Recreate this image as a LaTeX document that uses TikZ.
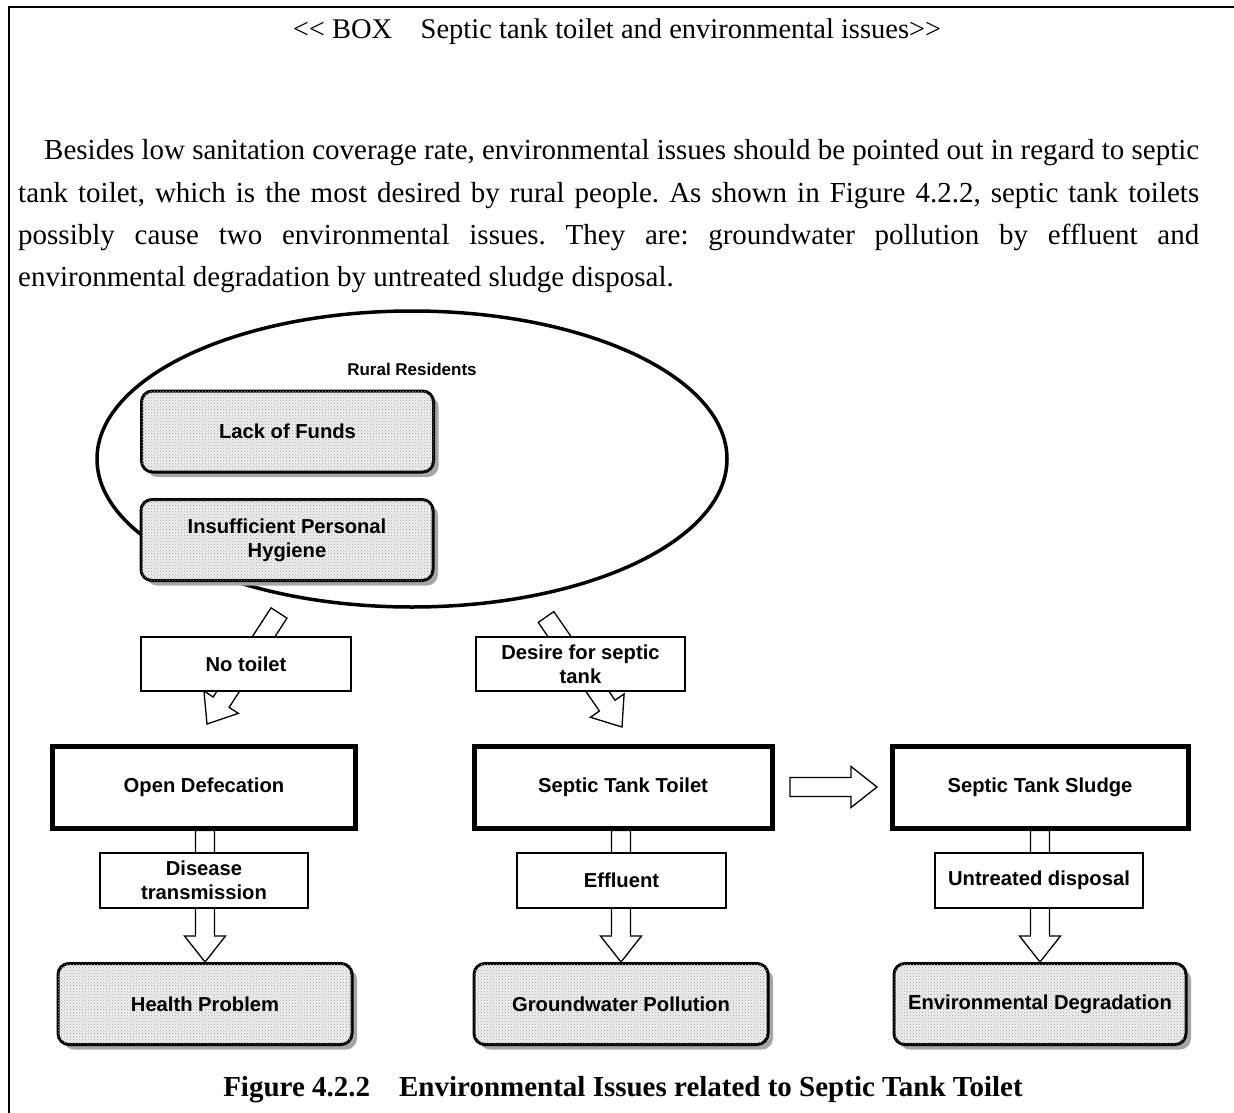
\documentclass[tikz,border=0pt]{standalone}
\usepackage{fontspec}
\setmainfont{Liberation Serif}
\setsansfont{Liberation Sans}
\usetikzlibrary{shapes.geometric,shadows,calc,patterns}
\frenchspacing

\tikzset{
  boxfont/.style={font=\sffamily\bfseries\fontsize{20.2}{24}\selectfont},
  problem/.style={boxfont, draw, line width=3pt, rounded corners=11pt, fill=gray!12,
    postaction={pattern=crosshatch dots, pattern color=gray!75},
    minimum width=292pt, minimum height=81pt, align=center,
    drop shadow={shadow xshift=5pt, shadow yshift=-5pt, fill=gray!70, opacity=1}},
  stage/.style={boxfont, draw, line width=5pt, fill=white, minimum height=82pt},
  tag/.style={boxfont, draw, line width=1.2pt, fill=white, minimum width=209pt,
    minimum height=54pt, align=center, inner sep=1pt},
  blockarrow/.style={draw, line width=1.3pt, fill=white, line join=miter},
  serif/.style={font=\fontsize{29}{34}\selectfont},
  bodyline/.style={serif, anchor=base west, inner sep=0pt}
}

% hollow block arrow #1 (name of its head base) from #2 to #3
\newcommand{\blockarr}[3]{%
  \coordinate (#1) at ($(#3)!26pt!(#2)$);
  \draw[blockarrow]
    ($(#2)!9.5pt!90:(#3)$) -- ($(#1)!9.5pt!90:(#3)$) --
    ($(#1)!20.5pt!90:(#3)$) -- (#3) --
    ($(#1)!20.5pt!-90:(#3)$) -- ($(#1)!9.5pt!-90:(#3)$) --
    ($(#2)!9.5pt!-90:(#3)$) -- cycle;}

\begin{document}
\begin{tikzpicture}[x=1pt,y=-1pt]
\useasboundingbox (0,0) rectangle (1234,1113);

% frame of the box
\draw[line width=1.5pt] (9,1113) -- (9,7) -- (1234,7);

% heading and text
\node[anchor=base, inner sep=0pt, font=\fontsize{28.5}{34}\selectfont] (title) at (617,39)
  {{<}{<} BOX\hspace{1em}Septic tank toilet and environmental issues{>}{>}};
\node[bodyline] (l1) at (44,160) {\makebox[1155pt][s]{Besides low sanitation coverage rate, environmental issues should be pointed out in regard to septic}};
\node[bodyline] (l2) at (18,202) {\makebox[1181pt][s]{tank toilet, which is the most desired by rural people. As shown in Figure 4.2.2, septic tank toilets}};
\node[bodyline] (l3) at (18,244) {\makebox[1181pt][s]{possibly cause two environmental issues. They are: groundwater pollution by effluent and}};
\node[bodyline] (l4) at (18,286) {environmental degradation by untreated sludge disposal.};

% rural residents
\node[ellipse, draw, line width=3.5pt, minimum width=630pt, minimum height=296pt, inner sep=0pt] (rr) at (412,459) {};
\node[font=\sffamily\bfseries\fontsize{17}{20}\selectfont] (rrl) at (412,369) {Rural Residents};

% arrow end points
\coordinate (ntA) at (279,613);
\coordinate (ntB) at (207,724);
\coordinate (dsA) at (546,617);
\coordinate (dsB) at (622,727);
\coordinate (hzA) at (790,787);
\coordinate (hzB) at (877,787);

\blockarr{ntH}{ntA}{ntB}
\blockarr{dsH}{dsA}{dsB}
\blockarr{hzH}{hzA}{hzB}

% causes and problems
\node[problem] (lf) at (287.5,431.5) {Lack of Funds};
\node[problem] (iph) at (287,540) {Insufficient Personal\\Hygiene};
\node[problem, minimum width=294pt] (hp) at (205,1004) {Health Problem};
\node[problem, minimum width=294pt] (gp) at (621,1004) {Groundwater Pollution};
\node[problem] (ed) at (1040,1004) {Environmental Degradation};

% sanitation stages
\node[stage, minimum width=303pt] (od) at (204,787) {Open Defecation};
\node[stage, minimum width=298pt] (stt) at (623,787) {Septic Tank Toilet};
\node[stage, minimum width=296pt] (sts) at (1040,787) {Septic Tank Sludge};

% downward arrows
\coordinate (odS) at (od.south -| hp.north);
\blockarr{odH}{odS}{hp.north}
\coordinate (sttS) at (stt.south -| gp.north);
\blockarr{sttH}{sttS}{gp.north}
\blockarr{stsH}{sts.south}{ed.north}

% arrow labels
\node[tag, minimum width=210pt] (nt) at (246,664) {No toilet};
\node[tag] (dst) at (580.5,664) {Desire for septic\\tank};
\node[tag, minimum width=208pt, minimum height=55pt] (dt) at (204,880.5) {Disease\\transmission};
\node[tag, minimum height=55pt] (ef) at (621.5,880.5) {Effluent};
\node[tag, minimum width=208pt, minimum height=55pt] (ud) at (1039,880.5) {Untreated disposal};

% caption
\node[anchor=base, inner sep=0pt, font=\bfseries\fontsize{29}{34}\selectfont] (cap) at (623,1096)
  {Figure 4.2.2\hspace{1em}Environmental Issues related to Septic Tank Toilet};
\end{tikzpicture}
\end{document}
